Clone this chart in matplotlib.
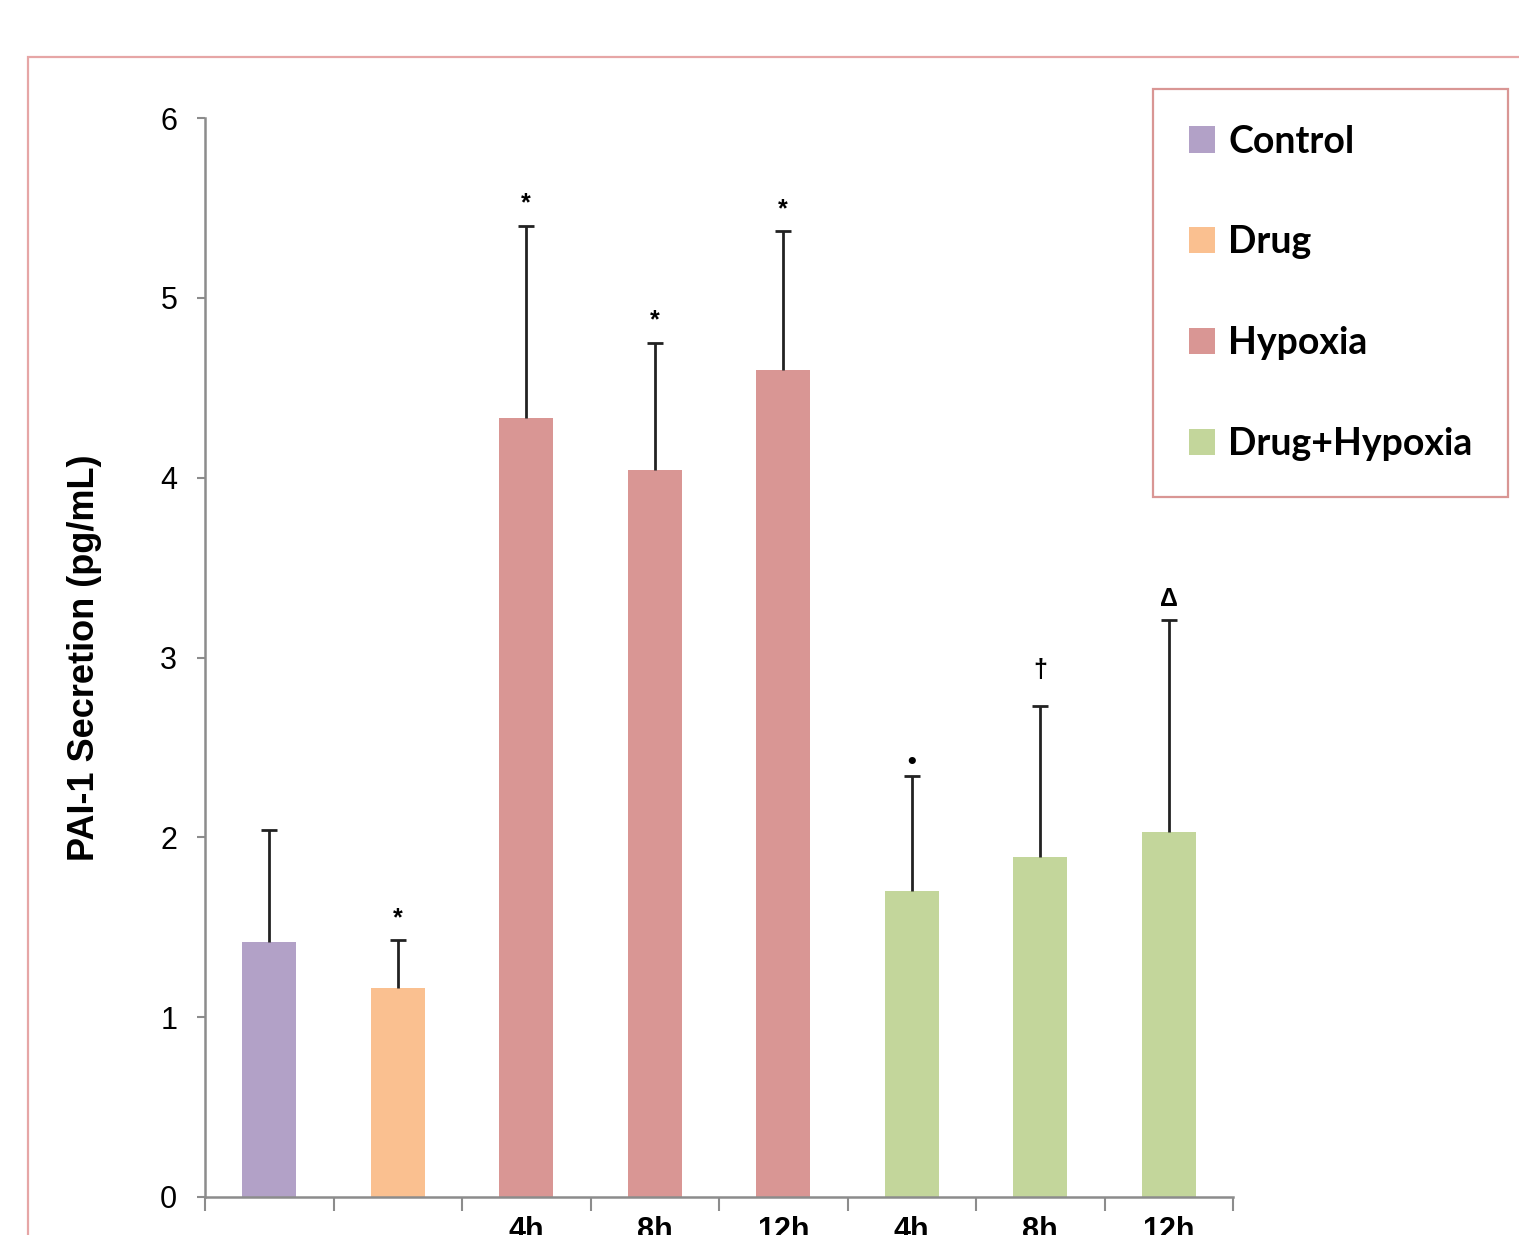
import numpy as np
import matplotlib.pyplot as plt
from matplotlib.patches import Patch, Rectangle

# Data
groups = ['Control', 'Drug', 'Hypoxia', 'Hypoxia', 'Hypoxia',
          'Drug+Hypoxia', 'Drug+Hypoxia', 'Drug+Hypoxia']
tick_labels = ['', '', '4h', '8h', '12h', '4h', '8h', '12h']
means = [1.42, 1.16, 4.33, 4.04, 4.60, 1.70, 1.89, 2.03]
errors = [0.62, 0.27, 1.07, 0.71, 0.77, 0.64, 0.84, 1.18]
marks = ['', '*', '*', '*', '*', '\u2022', '\u2020', '\u0394']
mark_offset = [0, 22, 23, 22, 22, 14, 36, 21]  # pixels above error cap

legend_names = ['Control', 'Drug', 'Hypoxia', 'Drug+Hypoxia']
colors = {'Control': '#B2A1C7', 'Drug': '#FAC090',
          'Hypoxia': '#D99694', 'Drug+Hypoxia': '#C3D69B'}

W, H = 1519, 1235
fig = plt.figure(figsize=(W / 100, H / 100), dpi=100)

# outer chart frame (runs off the right and bottom edges)
fig.patches.append(Rectangle((28 / W, -0.2), 1.2, (H - 57) / H + 0.2,
                             transform=fig.transFigure, fill=False,
                             edgecolor='#E6A6A6', linewidth=1.6))

ax = fig.add_axes([205 / W, (H - 1197) / H, (1233 - 205) / W, (1197 - 118) / H])

x = np.arange(len(means))
bar_colors = [colors[g] for g in groups]
ax.bar(x, means, width=0.42, color=bar_colors, zorder=2)
eb = ax.errorbar(x, means, yerr=[np.zeros(len(errors)), errors], fmt='none',
                 ecolor='#222222', elinewidth=2, capsize=6, capthick=2, zorder=3)
eb[1][0].set_visible(False)  # no cap at the bar top

for xi, m, e, s, off in zip(x, means, errors, marks, mark_offset):
    if s:
        ax.annotate(s, (xi, m + e), xytext=(0, off * 0.72), textcoords='offset points',
                    ha='center', va='center', fontsize=18, fontweight='bold',
                    family='Liberation Sans')

ax.set_xlim(-0.5, 7.5)
ax.set_ylim(0, 6)
ax.set_yticks(range(0, 7))
ax.tick_params(axis='y', labelsize=22, length=6, width=1.5, color='#8C8C8C', pad=14)
ax.set_xticks(np.arange(-0.5, 8, 1))
ax.set_xticklabels([])
ax.tick_params(axis='x', which='major', length=10, width=1.5, color='#8C8C8C')
ax.set_xticks(x, minor=True)
ax.set_xticklabels(tick_labels, minor=True, fontsize=22, fontweight='bold',
                   family='Liberation Sans')
ax.tick_params(axis='x', which='minor', length=0, pad=14)
for lab in ax.get_yticklabels():
    lab.set_family('Liberation Sans')

for side in ['top', 'right']:
    ax.spines[side].set_visible(False)
for side in ['left', 'bottom']:
    ax.spines[side].set_color('#8C8C8C')
    ax.spines[side].set_linewidth(1.8)

ax.set_ylabel('PAI-1 Secretion (pg/mL)', fontsize=26, fontweight='bold',
              family='Liberation Sans', labelpad=42)

handles = [Patch(facecolor=colors[n], edgecolor='none') for n in legend_names]
leg = fig.legend(handles, legend_names, loc='upper left',
                 bbox_to_anchor=(1153 / W, (H - 89) / H), frameon=True,
                 fancybox=False, edgecolor='#D99694', framealpha=1,
                 prop={'family': 'Lato', 'size': 27, 'weight': 'bold'},
                 handlelength=0.7, handleheight=0.7, handletextpad=0.35,
                 labelspacing=1.78, borderpad=0.95, borderaxespad=0)
leg.get_frame().set_linewidth(1.6)

fig.savefig('out.png', dpi=100)
